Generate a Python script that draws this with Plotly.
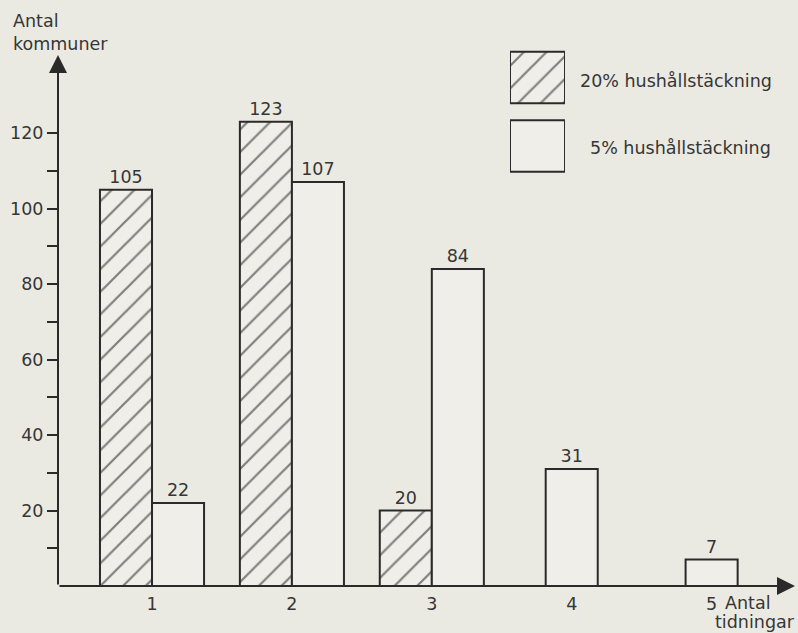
import plotly.graph_objects as go

# ---- data ----
categories = [1, 2, 3, 4, 5]
share20 = [105, 123, 20, None, None]   # 20% hushållstäckning
share5 = [22, 107, 84, 31, 7]          # 5% hushållstäckning
y_tick_values = [10, 20, 30, 40, 50, 60, 70, 80, 90, 100, 110, 120]
y_tick_labels = ["", "20", "", "40", "", "60", "", "80", "", "100", "", "120"]
legend_labels = ["20% hushållstäckning", "5% hushållstäckning"]

# ---- style ----
BG = "#ebeae2"
BAR_BG = "#efeee8"
INK = "#2a2a2a"
TXT = "#363636"
FONT = "DejaVu Sans, Verdana, sans-serif"
FS = 17.5
BAR_W = 0.372
offset20 = [-BAR_W] * 5
offset5 = [0, 0, 0, -BAR_W / 2, -BAR_W / 2]
X_RANGE = [0.328, 5.596]
Y_RANGE = [0, 144.64]
Y_TIP = 140.66
HATCH = dict(shape="/", fgcolor="#111111", bgcolor=BAR_BG, size=16, solidity=0.14)

fig = go.Figure()

fig.add_trace(go.Bar(
    x=categories, y=share20, width=BAR_W, offset=offset20,
    marker=dict(color=BAR_BG, line=dict(color=INK, width=2), pattern=HATCH),
    text=[str(v) if v is not None else "" for v in share20],
    textposition="outside", textfont=dict(size=FS, color=TXT, family=FONT),
    cliponaxis=False, showlegend=False, name=legend_labels[0],
))
fig.add_trace(go.Bar(
    x=categories, y=share5, width=BAR_W, offset=offset5,
    marker=dict(color=BAR_BG, line=dict(color=INK, width=2)),
    text=[str(v) for v in share5],
    textposition="outside", textfont=dict(size=FS, color=TXT, family=FONT),
    cliponaxis=False, showlegend=False, name=legend_labels[1],
))

# legend boxes drawn as bars on a small auxiliary axis
fig.add_trace(go.Bar(
    x=[1], y=[legend_labels[0]], orientation="h", width=0.75, base=0,
    marker=dict(color=BAR_BG, line=dict(color=INK, width=2), pattern=HATCH),
    xaxis="x2", yaxis="y2", showlegend=False, hoverinfo="skip",
))
fig.add_trace(go.Bar(
    x=[1], y=[legend_labels[1]], orientation="h", width=0.75, base=0,
    marker=dict(color=BAR_BG, line=dict(color=INK, width=2)),
    xaxis="x2", yaxis="y2", showlegend=False, hoverinfo="skip",
))

annotations = [
    # axes with arrowheads
    dict(x=X_RANGE[0], y=Y_TIP, ax=X_RANGE[0], ay=0, xref="x", yref="y", axref="x", ayref="y",
         showarrow=True, arrowhead=2, arrowsize=1.8, arrowwidth=2, arrowcolor=INK, text=""),
    dict(x=X_RANGE[1], y=0, ax=X_RANGE[0], ay=0, xref="x", yref="y", axref="x", ayref="y",
         showarrow=True, arrowhead=2, arrowsize=1.8, arrowwidth=2, arrowcolor=INK, text=""),
    # axis titles
    dict(text="Antal<br>kommuner", x=-0.0638, y=1.057, xref="paper", yref="paper",
         xanchor="left", yanchor="top", align="left", showarrow=False,
         font=dict(size=FS, color=TXT, family=FONT)),
    dict(text="Antal", x=0.902, y=-0.031, xref="paper", yref="paper",
         xanchor="left", yanchor="middle", showarrow=False,
         font=dict(size=FS, color=TXT, family=FONT)),
    dict(text="tidningar", x=1.0027, y=-0.066, xref="paper", yref="paper",
         xanchor="right", yanchor="middle", showarrow=False,
         font=dict(size=FS, color=TXT, family=FONT)),
    # legend labels
    dict(text=legend_labels[0], x=0.7056, y=0.9249, xref="paper", yref="paper",
         xanchor="left", yanchor="middle", showarrow=False,
         font=dict(size=FS, color=TXT, family=FONT)),
    dict(text=legend_labels[1], x=0.7191, y=0.8022, xref="paper", yref="paper",
         xanchor="left", yanchor="middle", showarrow=False,
         font=dict(size=FS, color=TXT, family=FONT)),
]

fig.update_layout(
    width=798, height=633,
    margin=dict(l=58, r=3, t=40, b=47),
    paper_bgcolor=BG, plot_bgcolor=BG,
    barmode="overlay",
    font=dict(family=FONT, size=FS, color=TXT),
    xaxis=dict(range=X_RANGE, tickvals=categories, ticktext=[str(c) for c in categories],
               showgrid=False, zeroline=False, showline=False,
               ticks="outside", ticklen=2, tickcolor=BG,
               tickfont=dict(size=FS, color=TXT, family=FONT)),
    yaxis=dict(range=Y_RANGE, tickvals=y_tick_values, ticktext=y_tick_labels,
               showgrid=False, zeroline=False, showline=False,
               ticks="outside", ticklen=10, tickwidth=2, tickcolor=INK,
               tickfont=dict(size=FS, color=TXT, family=FONT)),
    xaxis2=dict(domain=[0.6133, 0.6879], anchor="y2", range=[0, 1], visible=False),
    yaxis2=dict(domain=[0.7431, 0.9940], anchor="x2", type="category",
                categoryorder="array", categoryarray=[legend_labels[1], legend_labels[0]],
                range=[-0.5, 1.5], visible=False),
    annotations=annotations,
)

fig.write_html(
    "out.html",
    config={"displayModeBar": False, "staticPlot": True},
    post_script="document.body.style.margin='0px';document.body.style.overflow='hidden';"
                "document.body.style.background='" + BG + "';",
)
